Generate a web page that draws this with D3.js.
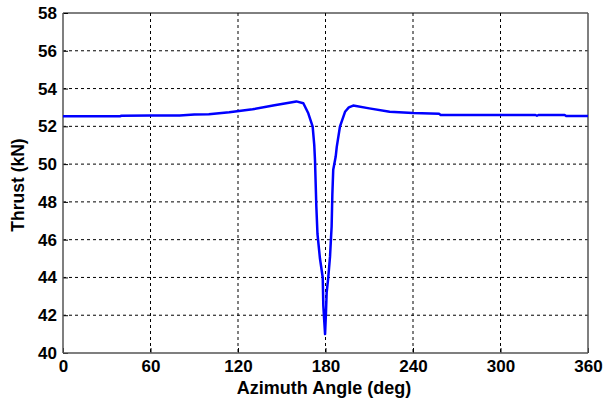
<!DOCTYPE html>
<html>
<head>
<meta charset="utf-8">
<script src="https://cdn.jsdelivr.net/npm/d3@7"></script>
<style>
  body { margin: 0; background: #fff; }
  text { font-family: "Liberation Sans", Arial, sans-serif; font-weight: bold; }
</style>
</head>
<body>
<svg id="svg" width="606" height="399"></svg>
<script>
// azimuth angle (deg) and thrust (kN)
const angles = [0, 20, 39, 40, 60, 80, 90, 100, 114, 130, 145, 155, 160, 164.8, 168.2, 171.2, 172.3, 172.8, 173.7, 174.5, 176.2, 178.1, 178.5, 179.7,
  180.3, 180.8, 181.9, 183.1, 184.2, 184.7, 185.3, 187.0, 187.7, 189.9, 193.4, 196, 199, 210, 224, 240, 258, 259, 300, 324, 325, 326, 344, 345, 360]
const thrust = [52.53, 52.53, 52.53, 52.56, 52.57, 52.58, 52.62, 52.64, 52.74, 52.9, 53.12, 53.25, 53.32, 53.22, 52.69, 51.98, 51.0, 50.2, 47.8, 46.3, 45.0, 44.0, 42.5, 41.0,
  42.1, 43.2, 44.0, 45.1, 46.7, 48.4, 49.7, 50.4, 50.9, 51.98, 52.77, 53.0, 53.1, 52.95, 52.77, 52.7, 52.66, 52.6, 52.6, 52.6, 52.56, 52.6, 52.6, 52.55, 52.55]
const xTicks = [0, 60, 120, 180, 240, 300, 360]
const yTicks = [40, 42, 44, 46, 48, 50, 52, 54, 56, 58]

const svg = d3.select("#svg")
const pL = 63, pR = 588, pT = 13, pB = 353

const x = d3.scaleLinear().domain([0, 360]).range([pL, pR])
const y = d3.scaleLinear().domain([40, 58]).range([pB, pT])

// grid
svg.append("g").selectAll("line").data(xTicks.slice(1, -1))
  .enter().append("line")
    .attr("x1", d => x(d)).attr("x2", d => x(d))
    .attr("y1", pT).attr("y2", pB)
    .attr("stroke", "#000").attr("stroke-width", 1).attr("stroke-dasharray", "3,3")
svg.append("g").selectAll("line").data(yTicks.slice(1, -1))
  .enter().append("line")
    .attr("x1", pL).attr("x2", pR)
    .attr("y1", d => y(d)).attr("y2", d => y(d))
    .attr("stroke", "#000").attr("stroke-width", 1).attr("stroke-dasharray", "3,3")

// axes
const xAxis = d3.axisBottom(x).tickValues(xTicks).tickSize(-5).tickPadding(7)
const yAxis = d3.axisLeft(y).tickValues(yTicks).tickSize(-5).tickPadding(6)
const gx = svg.append("g").attr("transform", `translate(0,${pB})`).call(xAxis)
const gy = svg.append("g").attr("transform", `translate(${pL},0)`).call(yAxis)
;[gx, gy].forEach(g => {
  g.select(".domain").remove()
  g.selectAll(".tick line").attr("stroke", "#000")
  g.selectAll(".tick text").attr("font-size", 17).attr("fill", "#000")
    .style("font-family", "Liberation Sans, Arial, sans-serif").style("font-weight", "bold")
})

// frame
svg.append("line").attr("x1", pL).attr("x2", pR).attr("y1", pT).attr("y2", pT)
  .attr("stroke", "#000").attr("stroke-width", 1)
svg.append("line").attr("x1", pL).attr("x2", pR).attr("y1", pB).attr("y2", pB)
  .attr("stroke", "#555").attr("stroke-width", 1.5)
svg.append("line").attr("x1", pL).attr("x2", pL).attr("y1", pT).attr("y2", pB)
  .attr("stroke", "#555").attr("stroke-width", 1.5)
svg.append("line").attr("x1", pR).attr("x2", pR).attr("y1", pT).attr("y2", pB)
  .attr("stroke", "#555").attr("stroke-width", 1.5)

// curve
const line = d3.line().x((d, i) => x(angles[i])).y(d => y(d))
svg.append("path").datum(thrust)
  .attr("d", line)
  .attr("fill", "none").attr("stroke", "#0000ff").attr("stroke-width", 2.5)
  .attr("stroke-linejoin", "round")

// titles
svg.append("text").attr("x", 324).attr("y", 393.5)
  .attr("text-anchor", "middle").attr("font-size", 18).text("Azimuth Angle (deg)")
svg.append("text").attr("transform", `translate(24,185) rotate(-90)`)
  .attr("text-anchor", "middle").attr("font-size", 17.5).text("Thrust (kN)")
</script>
</body>
</html>
